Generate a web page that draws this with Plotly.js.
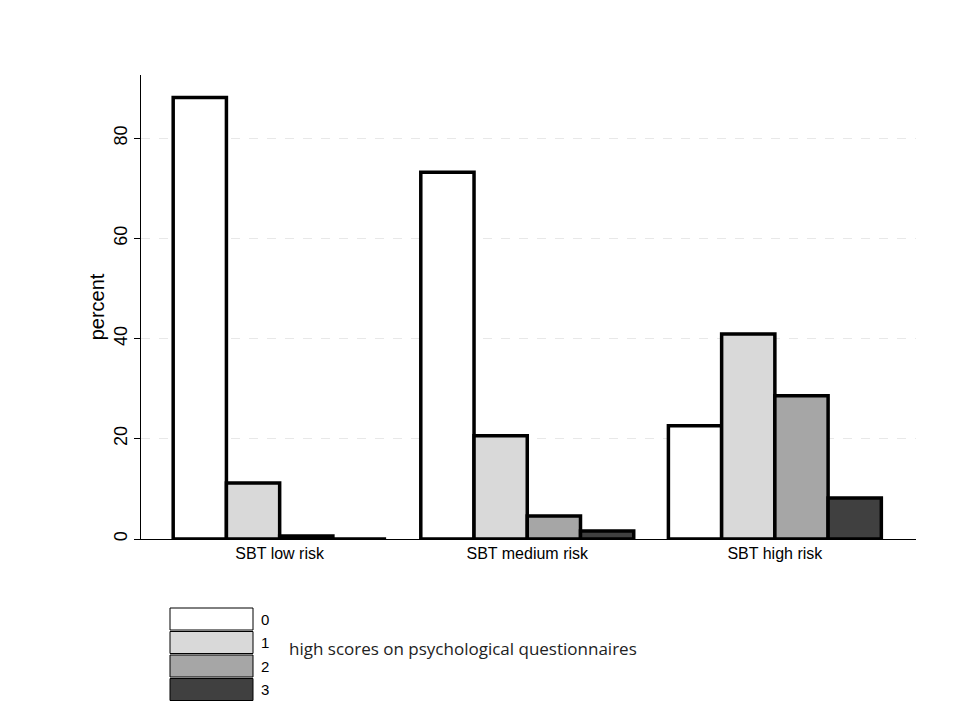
<!DOCTYPE html>
<html>
<head>
<meta charset="utf-8">
<script src="https://cdn.plot.ly/plotly-3.0.1.min.js"></script>
<style>body{margin:0;background:#fff}</style>
</head>
<body>
<div id="chart" style="width:960px;height:720px"></div>
<script>
var groups = ['SBT low risk', 'SBT medium risk', 'SBT high risk'];
var levels = ['0', '1', '2', '3'];
var score0 = [88.1, 73.2, 22.6];
var score1 = [11.2, 20.6, 40.9];
var score2 = [0.6, 4.6, 28.6];
var score3 = [0, 1.6, 8.2];
var colors = ['#ffffff', '#d9d9d9', '#a6a6a6', '#404040'];
var legendTitle = 'high scores on psychological questionnaires';

var values = [score0, score1, score2, score3];
var data = values.map(function(v, i) {
  return {
    x: groups,
    y: v,
    type: 'bar',
    name: levels[i],
    showlegend: false,
    marker: {
      color: colors[i],
      line: {color: i === 2 && false ? '#555' : '#000', width: 3.5}
    }
  };
});

// legend boxes built by hand, Stata style
var shapes = [];
var annotations = [];
levels.forEach(function(l, i) {
  var top = 608 + i * 23.5;
  shapes.push({
    type: 'rect', xref: 'paper', yref: 'paper',
    x0: (170 - 141) / 775, x1: (253 - 141) / 775,
    y0: (539 - top - 22) / 464, y1: (539 - top) / 464,
    fillcolor: colors[i], line: {color: '#000', width: 1}
  });
  annotations.push({
    xref: 'paper', yref: 'paper',
    x: (259 - 141) / 775, y: (539 - top - 11) / 464,
    text: l, showarrow: false, xanchor: 'left', yanchor: 'middle',
    font: {size: 15, color: '#000', family: 'Liberation Sans, Arial, sans-serif'}
  });
});
annotations.push({
  xref: 'paper', yref: 'paper',
  x: (287 - 141) / 775, y: (539 - 648) / 464,
  text: legendTitle, showarrow: false, xanchor: 'left', yanchor: 'middle',
  font: {size: 17, color: '#222', family: 'Open Sans, sans-serif'}
});

var layout = {
  width: 960,
  height: 720,
  paper_bgcolor: '#fff',
  plot_bgcolor: '#fff',
  barmode: 'group',
  bargap: 0.14,
  bargroupgap: 0,
  margin: {l: 141, r: 44, t: 75, b: 181},
  font: {family: 'Liberation Sans, Arial, sans-serif', color: '#000', size: 16},
  xaxis: {
    showline: true, linecolor: '#000', linewidth: 1,
    ticks: '', tickfont: {size: 16}, range: [-0.56, 2.57]
  },
  yaxis: {
    range: [0, 92.6],
    tickvals: [0, 20, 40, 60, 80],
    tickangle: -90,
    ticks: 'outside', ticklen: 6, tickcolor: '#000',
    tickfont: {size: 18},
    showline: true, linecolor: '#000', linewidth: 1,
    showgrid: true, gridcolor: '#e8e8e8', griddash: 'dash', gridwidth: 1,
    zeroline: false,
    title: {text: 'percent', font: {size: 20}, standoff: 0}
  },
  shapes: shapes,
  annotations: annotations
};

Plotly.newPlot('chart', data, layout, {displayModeBar: false});
</script>
</body>
</html>
